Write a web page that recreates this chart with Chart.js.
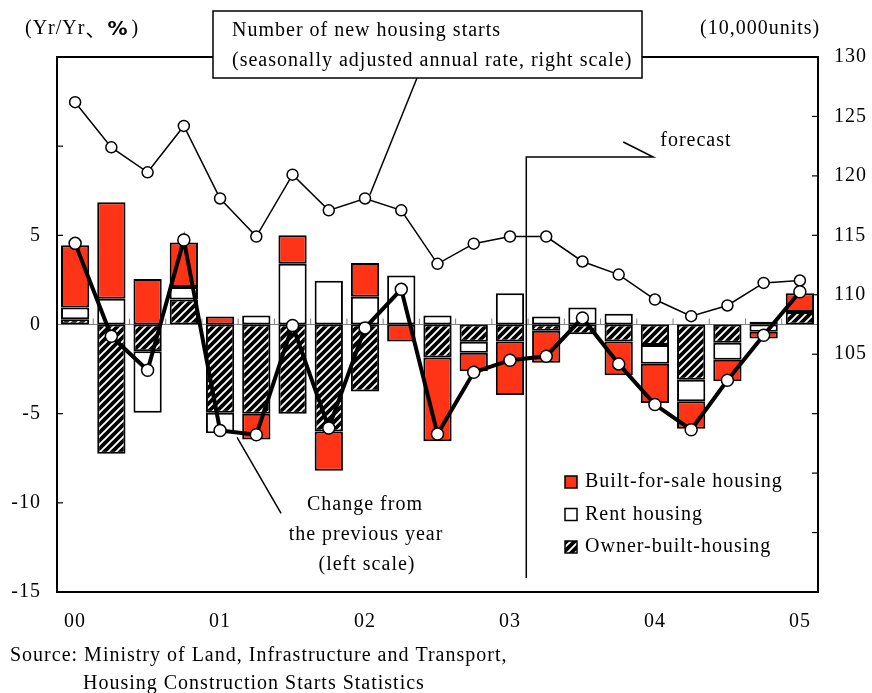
<!DOCTYPE html>
<html>
<head>
<meta charset="utf-8">
<script src="https://cdn.jsdelivr.net/npm/chart.js@4.4.1/dist/chart.umd.min.js"></script>
<style>
  body { margin: 0; background: #fff; }
  canvas { display: block; }
</style>
</head>
<body>
<canvas id="myChart" width="872" height="693"></canvas>
<script>
// quarterly data, 2000Q1 - 2005Q1
const quarters = ['00Q1','00Q2','00Q3','00Q4','01Q1','01Q2','01Q3','01Q4','02Q1','02Q2','02Q3','02Q4',
                  '03Q1','03Q2','03Q3','03Q4','04Q1','04Q2','04Q3','04Q4','05Q1'];
const tickLabels = ['00','','','','01','','','','02','','','','03','','','','04','','','','05'];

// contributions, Yr/Yr % (left scale)
const ownerBuilt = [0.3, -7.25, -1.5, 1.4, -4.95, -5.0, -5.0, -6.0, -3.75, 0, -1.85, -0.97,
                    -0.95, -0.35, -0.55, -0.95, -1.15, -3.1, -1.03, 0.15, 0.7];
const rent       = [0.65, 1.45, -3.45, 0.7, -1.15, 0.5, 3.4, 2.45, 1.55, 2.75, 0.5, -0.62,
                    1.75, 0.45, 0.95, 0.6, -1.05, -1.2, -0.95, -0.4, 0];
const forSale    = [3.5, 5.4, 2.55, 2.5, 0.45, -1.45, 1.6, -2.2, 1.9, -0.95, -4.7, -1.03,
                    -3.0, -1.8, 0, -1.9, -2.2, -1.55, -1.2, -0.38, 1.05];
const change     = [4.55, -0.66, -2.57, 4.74, -5.94, -6.18, -0.06, -5.8, -0.19, 1.97, -6.14, -2.68,
                    -2.0, -1.78, 0.37, -2.21, -4.49, -5.9, -3.13, -0.6, 1.84];

// new housing starts, 10,000 units, SAAR (right scale)
const starts = [126.2, 122.4, 120.3, 124.2, 118.1, 114.9, 120.1, 117.1, 118.1, 117.1, 112.6, 114.3,
                114.9, 114.9, 112.8, 111.7, 109.6, 108.2, 109.1, 111.0, 111.2];

const forecastFrom = 12.45;   // between 03Q1 and 03Q2

const SERIF = '"Liberation Serif", "Times New Roman", serif';
const RED = '#ff3316';

Chart.defaults.font.family = SERIF;
Chart.defaults.font.size = 20;
Chart.defaults.color = '#000';

const ctx = document.getElementById('myChart').getContext('2d');

function hatch() {
	const c = document.createElement('canvas');
	c.width = 8; c.height = 8;
	const g = c.getContext('2d');
	g.fillStyle = '#000';
	g.fillRect(0, 0, 8, 8);
	g.strokeStyle = '#fff';
	g.lineWidth = 1.9;
	g.beginPath();
	g.moveTo(-2, 10); g.lineTo(10, -2);
	g.moveTo(-2, 2);  g.lineTo(2, -2);
	g.moveTo(6, 10);  g.lineTo(10, 6);
	g.stroke();
	return ctx.createPattern(c, 'repeat');
}
const hatchFill = hatch();

function line(c, pts, w) {
	c.lineWidth = w || 1.5;
	c.beginPath();
	c.moveTo(pts[0][0], pts[0][1]);
	for (let i = 1; i < pts.length; i++) c.lineTo(pts[i][0], pts[i][1]);
	c.stroke();
}

const deco = {
	id: 'deco',
	beforeDraw(chart) {
		chart.ctx.letterSpacing = '1px';
	},
	beforeDatasetsDraw(chart) {
		const c = chart.ctx, a = chart.chartArea;
		const xs = chart.scales.x, y0 = chart.scales.y.getPixelForValue(0);
		c.save();
		c.strokeStyle = '#808080';
		line(c, [[a.left, y0], [a.right, y0]], 1);
		for (let i = 1; i < quarters.length; i++) {
			const x = xs.getPixelForValue(i - 0.5);
			line(c, [[x, y0], [x, y0 - 6]], 1);
		}
		c.restore();
	},
	afterDatasetsDraw(chart) {
		const c = chart.ctx, a = chart.chartArea;
		const xs = chart.scales.x, yl = chart.scales.y, yr = chart.scales.y2;
		c.save();
		c.strokeStyle = '#000';
		c.fillStyle = '#000';
		c.letterSpacing = '1px';

		// plot frame
		c.lineWidth = 2;
		c.strokeRect(a.left, a.top, a.right - a.left, a.bottom - a.top);

		// inward ticks
		[10, 5, -5, -10].forEach(v => {
			const y = yl.getPixelForValue(v);
			line(c, [[a.left, y], [a.left + 6, y]], 1.2);
		});
		for (let v = 90; v <= 125; v += 5) {
			const y = yr.getPixelForValue(v);
			line(c, [[a.right, y], [a.right - 6, y]], 1.2);
		}

		// forecast marker
		const fx = xs.getPixelForValue(forecastFrom);
		const fy = 157;
		line(c, [[fx, a.bottom - 14], [fx, fy], [fx + 127, fy], [fx + 97, fy - 15]], 1.5);
		c.font = '20px ' + SERIF;
		c.textBaseline = 'middle';
		c.textAlign = 'left';
		c.fillText('forecast', fx + 134, fy - 16);

		// callout: change from previous year
		const p = chart.getDatasetMeta(0).data[4];
		line(c, [[p.x + 17, p.y + 7], [p.x + 61, p.y + 83]], 1.5);
		c.textAlign = 'center';
		c.fillText('Change from', 365, 505);
		c.fillText('the previous year', 366, 535);
		c.fillText('(left scale)', 367, 565);

		// callout: housing starts
		const q = chart.getDatasetMeta(1).data[8];
		line(c, [[417, 78], [q.x + 5, q.y - 4]], 1.5);
		c.fillStyle = '#fff';
		c.fillRect(213, 11, 429, 67);
		c.lineWidth = 1.5;
		c.strokeRect(213, 11, 429, 67);
		c.fillStyle = '#000';
		c.textAlign = 'left';
		c.fillText('Number of new housing starts', 232, 31);
		c.fillText('(seasonally adjusted annual rate, right scale)', 232, 61);

		// legend
		const items = [['Built-for-sale housing', RED], ['Rent housing', '#fff'], ['Owner-built-housing', hatchFill]];
		items.forEach((it, i) => {
			const y = 482 + i * 32.5;
			c.fillStyle = it[1];
			c.fillRect(565, y - 6, 12, 12);
			c.lineWidth = 1.5;
			c.strokeRect(565, y - 6, 12, 12);
			c.fillStyle = '#000';
			c.fillText(it[0], 585, y);
		});

		// axis titles
		let x = 25;
		c.font = '20px ' + SERIF;
		c.fillText('(Yr/Yr', x, 29); x += c.measureText('(Yr/Yr').width;
		c.font = '20px "Noto Sans CJK JP"';
		c.fillText('、', x, 29); x += 22;
		c.font = 'bold 20px "DejaVu Sans"';
		c.fillText('%', x, 30); x += c.measureText('%').width + 3;
		c.font = '20px ' + SERIF;
		c.fillText(')', x, 29);
		c.fillText('(10,000units)', 700, 29);

		// source
		c.fillText('Source: Ministry of Land, Infrastructure and Transport,', 10, 656);
		c.fillText('Housing Construction Starts Statistics', 83, 684);
		c.restore();
	}
};

const myChart = new Chart(ctx, {
	data: {
		labels: quarters,
		datasets: [
			{
				type: 'line',
				label: 'Change from the previous year',
				data: change,
				yAxisID: 'y',
				borderColor: '#000',
				borderWidth: 4,
				pointRadius: 6,
				pointBackgroundColor: '#fff',
				pointBorderColor: '#000',
				pointBorderWidth: 1.5,
				tension: 0,
			},
			{
				type: 'line',
				label: 'Number of new housing starts',
				data: starts,
				yAxisID: 'y2',
				borderColor: '#000',
				borderWidth: 1.5,
				pointRadius: 5.5,
				pointBackgroundColor: '#fff',
				pointBorderColor: '#000',
				pointBorderWidth: 1.5,
				tension: 0,
			},
			{
				type: 'bar',
				label: 'Owner-built-housing',
				data: ownerBuilt,
				yAxisID: 'y',
				backgroundColor: hatchFill,
				borderColor: '#000',
				borderWidth: 2,
				borderSkipped: false,
				categoryPercentage: 1,
				barPercentage: 0.78,
			},
			{
				type: 'bar',
				label: 'Rent housing',
				data: rent,
				yAxisID: 'y',
				backgroundColor: '#fff',
				borderColor: '#000',
				borderWidth: 2,
				borderSkipped: false,
				categoryPercentage: 1,
				barPercentage: 0.78,
			},
			{
				type: 'bar',
				label: 'Built-for-sale housing',
				data: forSale,
				yAxisID: 'y',
				backgroundColor: RED,
				borderColor: '#000',
				borderWidth: 2,
				borderSkipped: false,
				categoryPercentage: 1,
				barPercentage: 0.78,
			},
		]
	},
	options: {
		responsive: false,
		animation: false,
		events: [],
		layout: { padding: { top: 57, left: 0, right: 0, bottom: 0 } },
		plugins: {
			legend: { display: false },
			tooltip: { enabled: false },
		},
		scales: {
			x: {
				stacked: true,
				offset: true,
				grid: { display: false, drawTicks: false },
				border: { display: false },
				ticks: {
					autoSkip: false,
					maxRotation: 0,
					padding: 18,
					callback: (v, i) => tickLabels[i],
				},
				afterFit: s => { s.height = 101; },
			},
			y: {
				stacked: true,
				position: 'left',
				min: -15,
				max: 15,
				grid: { display: false, drawTicks: false },
				border: { display: false },
				ticks: {
					stepSize: 5,
					padding: 16,
					callback: v => (v > 5 ? '' : v),
				},
				afterFit: s => { s.width = 57; },
			},
			y2: {
				position: 'right',
				min: 85,
				max: 130,
				grid: { display: false, drawTicks: false },
				border: { display: false },
				ticks: {
					stepSize: 5,
					padding: 16,
					callback: v => (v >= 105 ? v : ''),
				},
				afterFit: s => { s.width = 54; },
			},
		},
	},
	plugins: [deco]
});
</script>
</body>
</html>
